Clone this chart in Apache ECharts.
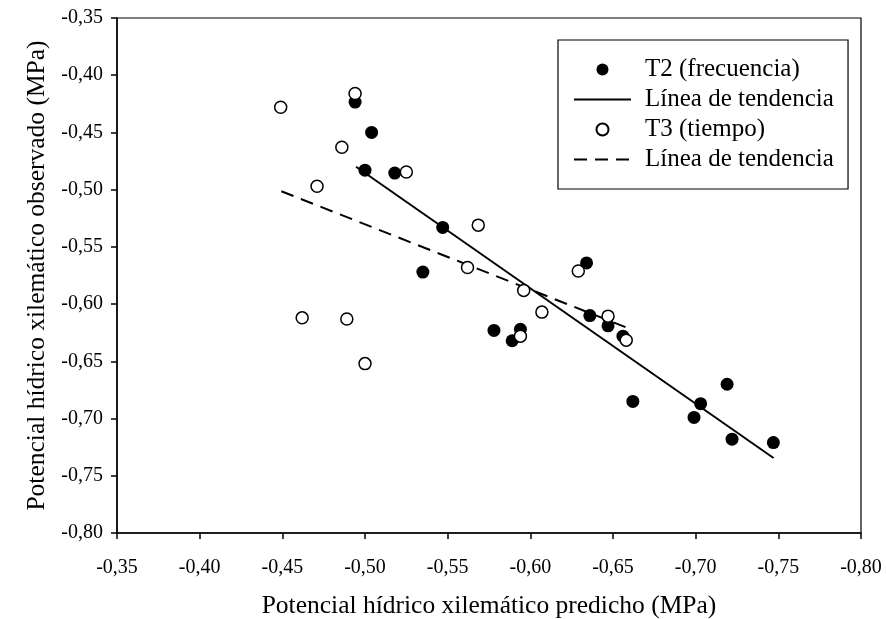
<!DOCTYPE html>
<html>
<head>
<meta charset="utf-8">
<script src="https://cdn.jsdelivr.net/npm/echarts@6/dist/echarts.min.js"></script>
<style>
html,body{margin:0;padding:0;background:#fff;}
#chart{width:886px;height:619px;}
</style>
</head>
<body>
<div id="chart"></div>
<script>
// T2 (frecuencia): predicted (x) and observed (y)
const t2X = [-0.494, -0.504, -0.500, -0.518, -0.547, -0.535, -0.634, -0.636, -0.647, -0.656, -0.578, -0.594, -0.589, -0.662, -0.719, -0.703, -0.699, -0.722, -0.747];
const t2Y = [-0.4235, -0.450, -0.483, -0.4855, -0.533, -0.572, -0.564, -0.610, -0.619, -0.628, -0.623, -0.622, -0.632, -0.685, -0.670, -0.687, -0.699, -0.718, -0.721];
// T3 (tiempo)
const t3X = [-0.449, -0.494, -0.486, -0.525, -0.471, -0.5685, -0.562, -0.629, -0.596, -0.607, -0.647, -0.658, -0.594, -0.462, -0.489, -0.500];
const t3Y = [-0.428, -0.416, -0.463, -0.4845, -0.497, -0.531, -0.568, -0.571, -0.588, -0.607, -0.6105, -0.6315, -0.628, -0.612, -0.613, -0.652];
// Trend lines (end points)
const trend2X = [-0.4946, -0.7471];
const trend2Y = [-0.480, -0.7345];
const trend3X = [-0.4494, -0.6584];
const trend3Y = [-0.5014, -0.6206];

const seriesNames = ['T2 (frecuencia)', 'Línea de tendencia', 'T3 (tiempo)', 'Línea de tendencia '];
const xTitle = 'Potencial hídrico xilemático predicho (MPa)';
const yTitle = 'Potencial hídrico xilemático observado (MPa)';

const zip = (a, b) => a.map((v, i) => [v, b[i]]);
const fmt = v => v.toFixed(2).replace('.', ',');
const FONT = 'Liberation Serif';

const chart = echarts.init(document.getElementById('chart'), null, {renderer: 'canvas'});
chart.setOption({
  backgroundColor: '#fff',
  animation: false,
  textStyle: {fontFamily: FONT, color: '#000'},
  grid: {left: 117, top: 18, right: 25, bottom: 86, containLabel: false, outerBoundsMode: 'none',
         show: true, borderColor: '#000', borderWidth: 1.2, backgroundColor: 'transparent'},
  xAxis: {
    type: 'value', min: -0.8, max: -0.35, interval: 0.05, inverse: true,
    name: xTitle, nameLocation: 'middle', nameGap: 60,
    nameTextStyle: {fontFamily: FONT, fontSize: 25.5, color: '#000'},
    axisLine: {show: true, onZero: false, lineStyle: {color: '#000', width: 1.5}},
    axisTick: {show: true, inside: false, length: 6, lineStyle: {color: '#000', width: 1.5}},
    axisLabel: {fontFamily: FONT, fontSize: 20, color: '#000', margin: 25, formatter: fmt},
    splitLine: {show: false}
  },
  yAxis: {
    type: 'value', min: -0.8, max: -0.35, interval: 0.05,
    name: yTitle, nameLocation: 'middle', nameGap: 66,
    nameTextStyle: {fontFamily: FONT, fontSize: 25.5, color: '#000'},
    axisLine: {show: true, onZero: false, lineStyle: {color: '#000', width: 1.5}},
    axisTick: {show: true, inside: false, length: 6, lineStyle: {color: '#000', width: 1.5}},
    axisLabel: {fontFamily: FONT, fontSize: 20, color: '#000', margin: 14, formatter: fmt},
    splitLine: {show: false}
  },
  legend: {
    orient: 'vertical', left: 558, top: 40,
    data: [
      {name: seriesNames[0]},
      {name: seriesNames[1], itemStyle: {opacity: 0}},
      {name: seriesNames[2]},
      {name: seriesNames[3], itemStyle: {opacity: 0}}
    ],
    borderColor: '#000', borderWidth: 1.2, borderRadius: 0,
    padding: [17, 8, 17, 15],
    itemWidth: 57, itemHeight: 12, itemGap: 5,
    textStyle: {fontFamily: FONT, fontSize: 25, color: '#000', padding: [0, 0, 0, 9]},
    selectedMode: false
  },
  series: [
    {
      name: seriesNames[0], type: 'scatter', data: zip(t2X, t2Y), z: 3,
      symbol: 'circle', symbolSize: 13,
      itemStyle: {color: '#000', borderColor: '#000', borderWidth: 0, opacity: 1}
    },
    {
      name: seriesNames[1], type: 'line', data: zip(trend2X, trend2Y), z: 2,
      symbol: 'none', showSymbol: false,
      lineStyle: {color: '#000', width: 2, type: 'solid'},
      itemStyle: {color: '#000'}
    },
    {
      name: seriesNames[2], type: 'scatter', data: zip(t3X, t3Y), z: 4,
      symbol: 'circle', symbolSize: 12,
      itemStyle: {color: '#fff', borderColor: '#000', borderWidth: 1.5, opacity: 1}
    },
    {
      name: seriesNames[3], type: 'line', data: zip(trend3X, trend3Y), z: 2,
      symbol: 'none', showSymbol: false,
      lineStyle: {color: '#000', width: 2, type: [13, 8]},
      itemStyle: {color: '#000'}
    }
  ]
});
</script>
</body>
</html>
